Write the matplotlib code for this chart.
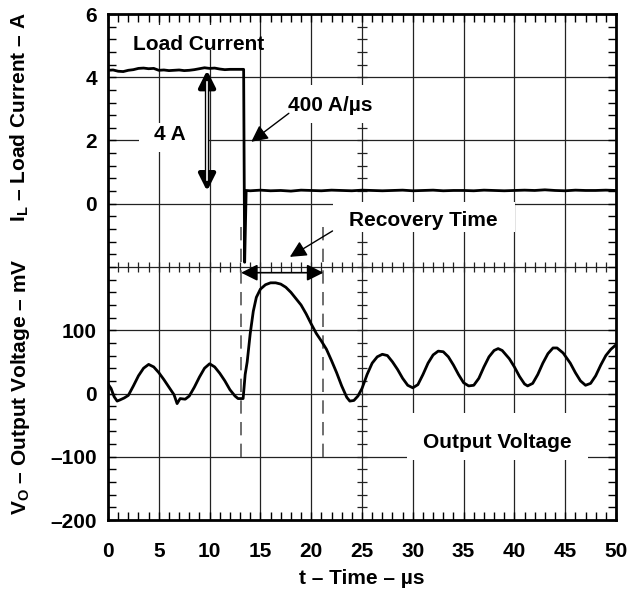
import matplotlib
matplotlib.use("Agg")
import matplotlib.pyplot as plt
import numpy as np
from matplotlib.patches import Rectangle
from matplotlib.ticker import MultipleLocator

# load current trace (A) vs time (us)
i_t = [0, 0.5, 1.0, 1.5, 2.0, 2.5, 3.0, 3.5, 4.0, 4.5, 5.0, 5.5, 6.0, 6.5, 7.0,
       7.5, 8.0, 8.5, 9.0, 9.5, 10.0, 10.5, 11.0, 11.5, 12.0, 12.5, 13.0, 13.35,
       13.45, 13.6, 14, 15, 16, 17, 18, 19, 20, 21, 22, 23, 24, 25, 26, 27, 28,
       29, 30, 31, 32, 33, 34, 35, 36, 37, 38, 39, 40, 41, 42, 43, 44, 45, 46,
       47, 48, 49, 50]
i_a = [4.22, 4.23, 4.19, 4.18, 4.22, 4.24, 4.28, 4.29, 4.27, 4.28, 4.22, 4.23,
       4.21, 4.22, 4.23, 4.21, 4.22, 4.24, 4.27, 4.30, 4.28, 4.29, 4.26, 4.24,
       4.25, 4.25, 4.25, 4.25, -1.85, 0.42, 0.41, 0.43, 0.41, 0.42, 0.40, 0.43,
       0.42, 0.41, 0.43, 0.42, 0.41, 0.43, 0.42, 0.41, 0.42, 0.43, 0.41, 0.42,
       0.43, 0.41, 0.42, 0.42, 0.41, 0.43, 0.42, 0.41, 0.42, 0.43, 0.42, 0.44,
       0.42, 0.41, 0.43, 0.42, 0.42, 0.43, 0.42]

# output voltage trace (mV) vs time (us)
v_t = [0, 0.3, 0.6, 0.9, 1.2, 1.6, 2.0, 2.5, 3.0, 3.5, 4.0, 4.5, 5.0, 5.5, 6.0,
       6.5, 6.8, 7.1, 7.6, 8.0, 8.5, 9.0, 9.5, 10.0, 10.5, 11.0, 11.5, 12.0,
       12.5, 12.8, 13.3, 13.5, 13.7, 14.0, 14.3, 14.6, 15.0, 15.5, 16.0, 16.5,
       17.0, 17.5, 18.0, 18.5, 19.0, 19.5, 20.0, 20.5, 21.0, 21.5, 22.0, 22.5,
       23.0, 23.5, 23.8, 24.2, 24.6, 25.0, 25.5, 26.0, 26.5, 27.0, 27.5, 28.0,
       28.5, 29.0, 29.5, 30.0, 30.5, 31.0, 31.5, 32.0, 32.5, 33.0, 33.5, 34.0,
       34.5, 35.0, 35.5, 36.0, 36.5, 37.0, 37.5, 38.0, 38.4, 38.8, 39.5, 40.0,
       40.5, 41.0, 41.3, 41.8, 42.3, 42.8, 43.3, 43.8, 44.2, 44.8, 45.5, 46.0,
       46.5, 47.0, 47.5, 48.0, 48.5, 49.0, 49.5, 50.0]
v_mv = [15, 8, -5, -12, -10, -7, -3, 12, 28, 40, 46, 42, 33, 22, 10, -2, -16,
        -8, -9, -4, 10, 26, 40, 47, 42, 32, 20, 6, -4, -8, -8, 30, 50, 95, 130,
        152, 165, 172, 175, 175, 173, 168, 160, 150, 140, 126, 110, 95, 83, 70,
        52, 33, 12, -6, -12, -11, -4, 8, 30, 48, 58, 62, 60, 50, 38, 24, 13, 9,
        14, 30, 48, 61, 67, 66, 58, 45, 30, 17, 12, 13, 24, 42, 58, 68, 71, 68,
        55, 42, 27, 15, 12, 16, 30, 48, 63, 72, 72, 64, 48, 33, 20, 13, 16, 28,
        45, 60, 70, 77]

x_ticks = [0, 5, 10, 15, 20, 25, 30, 35, 40, 45, 50]
v_ticks = [-200, -100, 0, 100]
i_ticks = [0, 2, 4, 6]

plt.rcParams['font.family'] = ['Liberation Sans', 'DejaVu Sans']
plt.rcParams['font.weight'] = 'bold'
plt.rcParams['mathtext.fontset'] = 'custom'
plt.rcParams['mathtext.bf'] = 'Liberation Sans:bold'
plt.rcParams['mathtext.rm'] = 'Liberation Sans:bold'

fs = 15
fig = plt.figure(figsize=(6.31, 5.90), dpi=100)
ax = fig.add_axes([108/631, 70/590, 508/631, 506/590])
ax.set_xlim(0, 50)
ax.set_ylim(-200, 600)

# graticule
for x in x_ticks[1:-1]:
    ax.axvline(x, color='#222222', lw=0.9, zorder=1)
for y in range(-100, 600, 100):
    ax.axhline(y, color='#222222', lw=0.9, zorder=1)
# centre line cross ticks
ax.plot(np.full(39, 25.0), np.arange(-180, 600, 20), ls='none', marker='_',
        ms=7, mew=0.9, color='#222222', zorder=1)
ax.plot(np.arange(1, 50), np.full(49, 200.0), ls='none', marker='|',
        ms=7, mew=0.9, color='#222222', zorder=1)

# white boxes behind labels
for (x0, x1, y0, y1) in [(2.0, 14.7, 543, 582), (3.1, 9.5, 382, 428),
                         (17.2, 26.4, 428, 488), (22.1, 40.1, 255, 303),
                         (29.4, 47.2, -105, -31)]:
    ax.add_patch(Rectangle((x0, y0), x1 - x0, y1 - y0, facecolor='white',
                           edgecolor='none', zorder=1.5))

# traces: current on its own scale
ax2 = ax.twinx()
ax2.set_ylim(-10, 6)
ax2.plot(i_t, i_a, color='black', lw=2.0, zorder=3)
ax.plot(v_t, v_mv, color='black', lw=2.0, zorder=3)

# dashed recovery markers
for x in [13.1, 21.2]:
    ax.plot([x, x], [-100, 270], color='#555555', lw=1.2, dashes=(8, 5), zorder=2)

# annotations
ax.text(8.96, 551, 'Load Current', ha='center', va='center', fontsize=fs, zorder=4)
ax.text(6.1, 409, '4 A', ha='center', va='center', fontsize=fs, zorder=4)
ax.text(21.85, 456, '400 A/µs', ha='center', va='center', fontsize=fs, zorder=4)
ax.text(31.0, 274, 'Recovery Time', ha='center', va='center', fontsize=fs, zorder=4)
ax.text(38.3, -77, 'Output Voltage', ha='center', va='center', fontsize=fs, zorder=4)

head = '-|>,head_length=1.0,head_width=0.5'
ax.annotate('', xy=(14.1, 398), xytext=(17.8, 443),
            arrowprops=dict(arrowstyle=head, color='black', lw=1.0,
                            shrinkA=0, shrinkB=0), zorder=4)
ax.annotate('', xy=(17.9, 216), xytext=(22.1, 257),
            arrowprops=dict(arrowstyle=head, color='black', lw=1.0,
                            shrinkA=0, shrinkB=0), zorder=4)
dh = '<|-|>,head_length=1.0,head_width=0.5'
ax.annotate('', xy=(13.1, 191), xytext=(21.2, 191),
            arrowprops=dict(arrowstyle=dh, color='black', lw=1.2,
                            shrinkA=0, shrinkB=0), zorder=4)
ax.annotate('', xy=(9.75, 511), xytext=(9.75, 320),
            arrowprops=dict(arrowstyle=dh, color='black', lw=3.2,
                            shrinkA=0, shrinkB=0), zorder=4)
ax.plot([9.75, 9.75], [338, 492], color='white', lw=1.2, zorder=5)

# ticks
ax.set_xticks(x_ticks)
ax.set_xticklabels([str(v) for v in x_ticks])
ax.xaxis.set_minor_locator(MultipleLocator(1))
ax.set_yticks(range(-200, 601, 100))
ax.set_yticklabels([str(v).replace('-', '\u2013') if v in v_ticks else ''
                    for v in range(-200, 601, 100)])
ax.yaxis.set_minor_locator(MultipleLocator(20))
ax.tick_params(which='both', direction='in', top=True, right=True,
               length=6, width=1.0, labelsize=fs)
ax.tick_params(axis='x', pad=16)
ax.tick_params(axis='y', pad=8)
for s in ax.spines.values():
    s.set_linewidth(2.0)

ax2.set_yticks(i_ticks)
ax2.set_yticklabels([str(v) for v in i_ticks])
ax2.tick_params(axis='y', which='both', length=0, left=True, right=False,
                labelleft=True, labelright=False, labelsize=fs, pad=8)
for s in ax2.spines.values():
    s.set_visible(False)

# axis labels
ax.text(-0.173, 0.795, r'$\mathbf{I}_\mathbf{L}$ – Load Current – A',
        transform=ax.transAxes, rotation=90, ha='center', va='center', fontsize=fs)
ax.text(-0.173, 0.264, r'$\mathbf{V}_\mathbf{O}$ – Output Voltage – mV',
        transform=ax.transAxes, rotation=90, ha='center', va='center', fontsize=fs)
ax.text(0.5, -0.115, 't – Time – µs', transform=ax.transAxes,
        ha='center', va='center', fontsize=fs)

fig.savefig('out.png', dpi=100)
